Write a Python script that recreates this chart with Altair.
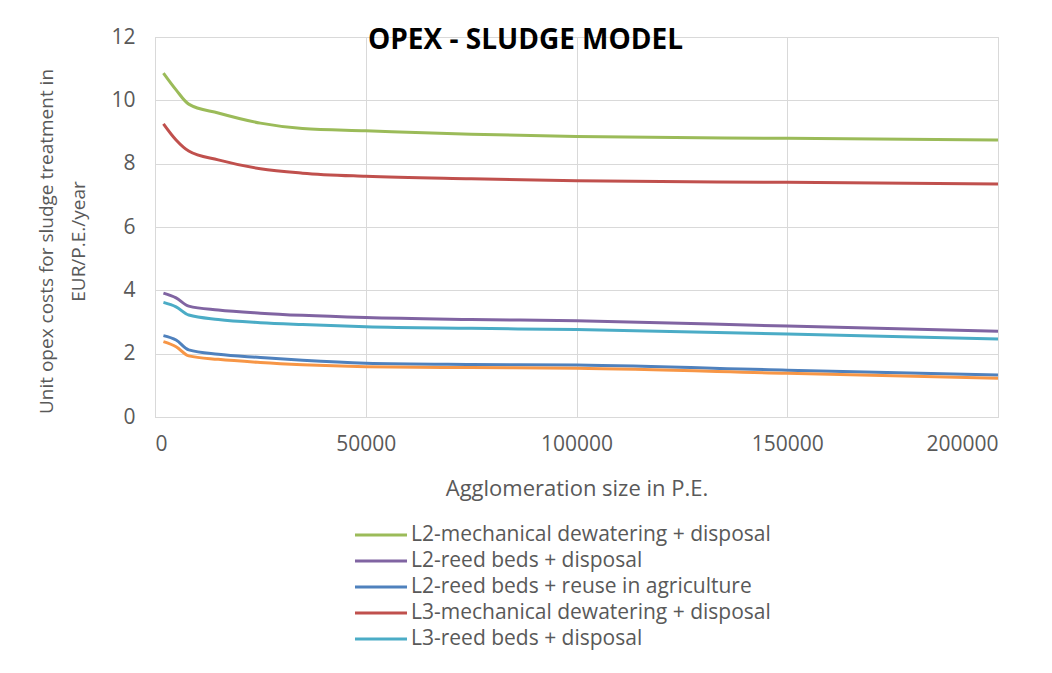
import altair as alt
import pandas as pd

x_vals = [2000, 5000, 8000, 15000, 25000, 35000, 50000, 75000, 100000, 150000, 200000]

series_names = [
    "L2-mechanical dewatering + disposal",
    "L2-reed beds + disposal",
    "L2-reed beds + reuse in agriculture",
    "L3-mechanical dewatering + disposal",
    "L3-reed beds + disposal",
    "L3-reed beds + reuse in agriculture",
]
series_colors = ["#9bbb59", "#8064a2", "#4f81bd", "#c0504d", "#4bacc6", "#f79646"]

l2_mech = [10.86, 10.33, 9.88, 9.60, 9.28, 9.11, 9.04, 8.93, 8.86, 8.80, 8.75]
l2_reed_disp = [3.91, 3.76, 3.50, 3.38, 3.28, 3.21, 3.14, 3.08, 3.04, 2.87, 2.71]
l2_reed_reuse = [2.57, 2.43, 2.12, 1.98, 1.88, 1.79, 1.70, 1.66, 1.64, 1.48, 1.33]
l3_mech = [9.26, 8.75, 8.40, 8.12, 7.84, 7.70, 7.60, 7.52, 7.46, 7.41, 7.36]
l3_reed_disp = [3.62, 3.48, 3.22, 3.08, 2.98, 2.92, 2.85, 2.80, 2.76, 2.62, 2.46]
l3_reed_reuse = [2.38, 2.22, 1.93, 1.82, 1.72, 1.65, 1.59, 1.56, 1.54, 1.38, 1.22]

all_series = [l2_mech, l2_reed_disp, l2_reed_reuse, l3_mech, l3_reed_disp, l3_reed_reuse]

rows = []
for name, vals in zip(series_names, all_series):
    for xv, yv in zip(x_vals, vals):
        rows.append({"size": xv, "cost": yv, "series": name})
df = pd.DataFrame(rows)

grey = "#595959"
grid = "#d9d9d9"

chart = alt.Chart(df).mark_line(strokeWidth=3, interpolate="monotone").encode(
    x=alt.X("size:Q",
            scale=alt.Scale(domain=[0, 200000], nice=False),
            axis=alt.Axis(values=[0, 50000, 100000, 150000, 200000], format="d",
                          title="Agglomeration size in P.E.", titleFontSize=22,
                          titleFontWeight="normal", titleColor=grey, titlePadding=24,
                          labelFontSize=21, labelColor=grey, labelPadding=16,
                          ticks=False, domainColor=grid, gridColor=grid,
                          labelFont="Open Sans", titleFont="Open Sans")),
    y=alt.Y("cost:Q",
            scale=alt.Scale(domain=[0, 12], nice=False),
            axis=alt.Axis(values=[0, 2, 4, 6, 8, 10, 12],
                          title=["Unit opex costs for sludge treatment in", "EUR/P.E./year"],
                          titleFontSize=19, titleFontWeight="normal", titleColor=grey,
                          titleLineHeight=32, titleY=204,
                          titlePadding=22, labelFontSize=21, labelColor=grey, labelPadding=20,
                          ticks=False, domainColor=grid, gridColor=grid,
                          labelFont="Open Sans", titleFont="Open Sans")),
    color=alt.Color("series:N",
                    scale=alt.Scale(domain=series_names, range=series_colors),
                    legend=alt.Legend(values=series_names[:5], title=None, orient="none",
                                      legendX=214, legendY=486, direction="vertical",
                                      symbolType="M-2.5,0H2.5", symbolSize=433,
                                      symbolStrokeWidth=3, labelFontSize=21,
                                      labelColor=grey, labelFont="Open Sans",
                                      labelOffset=18, rowPadding=4, labelLimit=700)),
    order=alt.Order("series:N"),
).properties(
    width=843,
    height=380,
    title=alt.TitleParams("OPEX - SLUDGE MODEL", fontSize=28, font="Open Sans",
                          fontWeight="bold", color="black", anchor="middle",
                          dx=-51, offset=-29),
    autosize=alt.AutoSizeParams(type="none"),
    padding={"left": 147, "top": 29, "right": 40, "bottom": 240},
).configure_view(stroke=grid)

chart.save("out.html", embed_options={"renderer": "svg", "actions": False})
